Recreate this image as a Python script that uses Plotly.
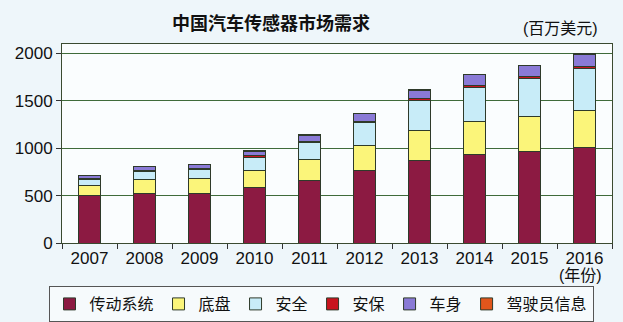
import plotly.graph_objects as go

years = ["2007", "2008", "2009", "2010", "2011", "2012", "2013", "2014", "2015", "2016"]
powertrain = [500, 519, 520, 582, 659, 760, 870, 933, 965, 1007]
chassis = [105, 155, 160, 183, 218, 266, 322, 347, 371, 396]
safety = [70, 80, 95, 133, 182, 247, 308, 357, 396, 435]
security = [10, 12, 10, 24, 16, 12, 20, 28, 28, 28]
body = [30, 43, 43, 48, 63, 80, 92, 113, 110, 128]
driver_info = [2, 2, 2, 3, 3, 3, 4, 4, 5, 5]

series = [
    ("传动系统", powertrain, "#8c1a42"),
    ("底盘", chassis, "#fbf57a"),
    ("安全", safety, "#c8ecf8"),
    ("安保", security, "#c8141e"),
    ("车身", body, "#8a7ad6"),
    ("驾驶员信息", driver_info, "#e0561c"),
]

FONT = "Liberation Sans, Noto Sans CJK SC, sans-serif"
W, H = 623, 322
l, r, t, b = 62, 11, 44, 79
pw, ph = W - l - r, H - t - b

fig = go.Figure()
for name, vals, col in series:
    fig.add_trace(go.Bar(
        x=years, y=vals, name=name,
        marker=dict(color=col, line=dict(color="#2e3a2a", width=1)),
    ))

fig.update_layout(
    barmode="stack",
    bargap=0.6,
    width=W, height=H,
    margin=dict(l=l, r=r, t=t, b=b, autoexpand=False),
    paper_bgcolor="#eef6fa",
    plot_bgcolor="#fafdfe",
    font=dict(family=FONT, size=17, color="#111"),
    showlegend=True,
    legend=dict(
        orientation="h", x=(321 - l) / pw, xanchor="center",
        y=(H - b - 286) / ph, yanchor="top",
        bordercolor="#555", borderwidth=1, bgcolor="#f6fafc",
        font=dict(family=FONT, size=16, color="#111"),
        itemwidth=30, traceorder="normal", tracegroupgap=0,
    ),
    xaxis=dict(
        type="category", tickson="boundaries", ticks="outside", ticklen=5,
        tickcolor="#333", showline=True, linecolor="#3a4a30", linewidth=1,
        mirror=True, showgrid=False, tickfont=dict(size=17),
    ),
    yaxis=dict(
        range=[0, 2100], tickvals=[0, 500, 1000, 1500, 2000],
        ticks="outside", ticklen=5, tickcolor="#333",
        showline=True, linecolor="#3a4a30", linewidth=1, mirror=True,
        showgrid=True, gridcolor="#3f6b3a", gridwidth=1,
        zeroline=False, tickfont=dict(size=17),
    ),
)

notes = [
    ("<b>中国汽车传感器市场需求</b>", 271, 22, 18, "Noto Sans CJK SC"),
    ("(百万美元)", 560, 28, 16, FONT),
    ("(年份)", 580, 275, 16, FONT),
]
for text, px, py, sz, fam in notes:
    fig.add_annotation(text=text, showarrow=False, xref="paper", yref="paper",
                       x=(px - l) / pw, y=(H - b - py) / ph,
                       xanchor="center", yanchor="middle",
                       font=dict(size=sz, family=fam, color="#111"))

fig.write_html("out.html")
